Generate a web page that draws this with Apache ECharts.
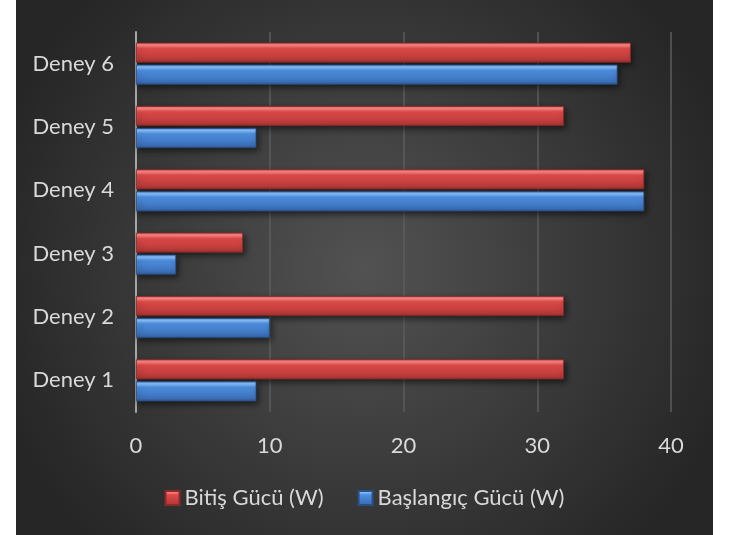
<!DOCTYPE html>
<html><head><meta charset="utf-8">
<script src="https://cdn.jsdelivr.net/npm/echarts@6/dist/echarts.min.js"></script>
<style>
html,body{margin:0;padding:0;background:#fff;width:734px;height:535px;overflow:hidden}
#c{position:absolute;left:16px;top:0;width:697px;height:535px}
</style></head>
<body><div id="c"></div>
<script>
const categories = ['Deney 1','Deney 2','Deney 3','Deney 4','Deney 5','Deney 6'];
const bitisValues = [32, 32, 8, 38, 32, 37];
const baslangicValues = [9, 10, 3, 38, 9, 36];
const xTicks = [0, 10, 20, 30, 40];
const seriesNames = ['Bitiş Gücü (W)', 'Başlangıç Gücü (W)'];

const font = 'Lato, "Open Sans", sans-serif';
function grad(c0, c1, c2, c3, c4) {
  return new echarts.graphic.LinearGradient(0, 0, 0, 1, [
    {offset: 0, color: c0}, {offset: 0.12, color: c1}, {offset: 0.3, color: c2},
    {offset: 0.85, color: c3}, {offset: 1, color: c4}
  ]);
}
const redFill = grad('#e05a58', '#ff8a87', '#e04a48', '#b73a39', '#9a2e2e');
const blueFill = grad('#4b8ad8', '#8cc2ff', '#4d8fe0', '#3c70b8', '#2f5a98');

const chart = echarts.init(document.getElementById('c'));
chart.setOption({
  backgroundColor: new echarts.graphic.RadialGradient(0.5, 0.5, 0.72, [
    {offset: 0, color: '#525252'}, {offset: 1, color: '#262626'}
  ]),
  animation: false,
  grid: {left: 120, right: 42, top: 32, bottom: 123, containLabel: false},
  xAxis: {
    type: 'value', min: xTicks[0], max: xTicks[xTicks.length - 1], interval: 10,
    axisLine: {show: false}, axisTick: {show: false},
    splitLine: {show: true, lineStyle: {color: '#5c5c5c', width: 1.5}},
    axisLabel: {color: '#d9d9d9', fontSize: 22, fontFamily: font, margin: 23}
  },
  yAxis: {
    type: 'category', data: categories,
    axisLine: {show: true, lineStyle: {color: '#a6a6a6', width: 2}},
    axisTick: {show: false},
    axisLabel: {color: '#d9d9d9', fontSize: 22, fontFamily: font, margin: 22}
  },
  legend: {
    data: seriesNames, bottom: 21, left: 'center', icon: 'rect',
    itemWidth: 14, itemHeight: 14, itemGap: 34,
    textStyle: {color: '#d9d9d9', fontSize: 22, fontFamily: font}
  },
  series: [
    {
      name: seriesNames[0], type: 'bar', data: bitisValues,
      barWidth: 20, barGap: '10%', barCategoryGap: '34%',
      itemStyle: {color: redFill, borderColor: '#8a2a2a', borderWidth: 0.8,
        shadowColor: 'rgba(0,0,0,0.55)', shadowBlur: 6, shadowOffsetX: 2, shadowOffsetY: 3}
    },
    {
      name: seriesNames[1], type: 'bar', data: baslangicValues,
      barWidth: 20, barGap: '10%', barCategoryGap: '34%',
      itemStyle: {color: blueFill, borderColor: '#2a4f86', borderWidth: 0.8,
        shadowColor: 'rgba(0,0,0,0.55)', shadowBlur: 6, shadowOffsetX: 2, shadowOffsetY: 3}
    }
  ]
});
</script></body></html>
